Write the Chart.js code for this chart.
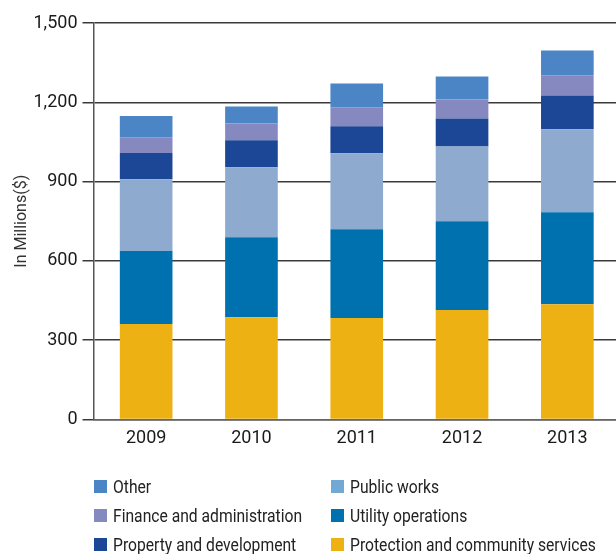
<!DOCTYPE html>
<html>
<head>
<meta charset="utf-8">
<script src="https://cdn.jsdelivr.net/npm/chart.js@4.4.1/dist/chart.umd.min.js"></script>
<style>
  html, body { margin: 0; padding: 0; background: #fff; overflow: hidden; }
  .wrap { position: relative; width: 616px; height: 554px; overflow: hidden; }
  #myChart { position: absolute; left: 0; top: 0; }
  .legend {
    position: absolute; left: 94px; top: 476px;
    display: grid; grid-template-columns: 237px 280px; row-gap: 9px;
    font-family: Roboto, 'Liberation Sans', sans-serif;
    font-size: 18px; color: #222;
  }
  .legend-item { display: flex; align-items: center; height: 20px; white-space: nowrap; }
  .swatch { width: 13px; height: 13px; margin-right: 6px; flex: none; }
  .legend-text { display: inline-block; transform: scaleX(0.87); transform-origin: left center; }
</style>
</head>
<body>
<div class="wrap">
  <canvas id="myChart" width="620" height="554"></canvas>
  <div class="legend" id="legend"></div>
</div>
<script>
const FONT = "Roboto, 'Liberation Sans', sans-serif";

// categories / tick labels
const years = ['2009', '2010', '2011', '2012', '2013'];
const yTicks = [0, 300, 600, 900, 1200, 1500];

// series values, in millions of dollars (bottom of stack first)
const protection = [361, 387, 384, 414, 436];
const utility = [276, 302, 336, 336, 348];
const publicWorks = [272, 265, 287, 283, 314];
const property = [99, 102, 102, 106, 128];
const finance = [60, 64, 72, 72, 76];
const other = [80, 64, 90, 87, 94];

const seriesNames = [
  'Protection and community services',
  'Utility operations',
  'Public works',
  'Property and development',
  'Finance and administration',
  'Other',
];
const seriesData = [protection, utility, publicWorks, property, finance, other];
const barColors = ['#EEB114', '#0071AF', '#8FAACF', '#1C4696', '#8689BF', '#4B85C5'];
// legend swatch for public works is a touch lighter than the bars
const legendColors = ['#EEB114', '#0071AF', '#72A8D4', '#1C4696', '#8689BF', '#4B85C5'];
// legend reads row by row, two columns
const legendOrder = [5, 2, 4, 1, 3, 0];

const datasets = seriesNames.map((name, i) => ({
  label: name,
  data: seriesData[i],
  backgroundColor: barColors[i],
  borderWidth: 0,
  barPercentage: 0.5,
  categoryPercentage: 1,
}));

const ctx = document.getElementById('myChart').getContext('2d');
new Chart(ctx, {
  type: 'bar',
  data: { labels: years, datasets: datasets },
  options: {
    responsive: false,
    animation: false,
    layout: { padding: { top: 23, bottom: 94, left: 0, right: 0 } },
    plugins: {
      legend: { display: false },
      tooltip: { enabled: false },
    },
    scales: {
      x: {
        stacked: true,
        grid: { display: false, drawTicks: false },
        border: { color: '#666', width: 1.5 },
        ticks: {
          color: '#1a1a1a',
          font: { family: FONT, size: 18 },
          padding: 8,
        },
        afterFit: (scale) => { scale.height = 40.5; },
      },
      y: {
        stacked: true,
        min: 0,
        max: 1500,
        afterBuildTicks: (scale) => { scale.ticks = yTicks.map((v) => ({ value: v })); },
        grid: { color: '#3a3a3a', lineWidth: 1.5, tickLength: 11 },
        border: { color: '#555', width: 1.5 },
        ticks: {
          color: '#1a1a1a',
          font: { family: FONT, size: 18 },
          padding: 5,
          callback: (v) => v.toLocaleString('en-US'),
        },
        title: {
          display: true,
          text: 'In Millions($)',
          color: '#333',
          font: { family: FONT, size: 16 },
          padding: { top: 12, bottom: 0 },
        },
        afterFit: (scale) => { scale.width = 93.5; },
      },
    },
  },
});

// build the two-column legend
const legendEl = document.getElementById('legend');
legendOrder.forEach((i) => {
  const item = document.createElement('div');
  item.className = 'legend-item';
  const sw = document.createElement('span');
  sw.className = 'swatch';
  sw.style.background = legendColors[i];
  const txt = document.createElement('span');
  txt.className = 'legend-text';
  txt.textContent = seriesNames[i];
  item.appendChild(sw);
  item.appendChild(txt);
  legendEl.appendChild(item);
});
</script>
</body>
</html>
